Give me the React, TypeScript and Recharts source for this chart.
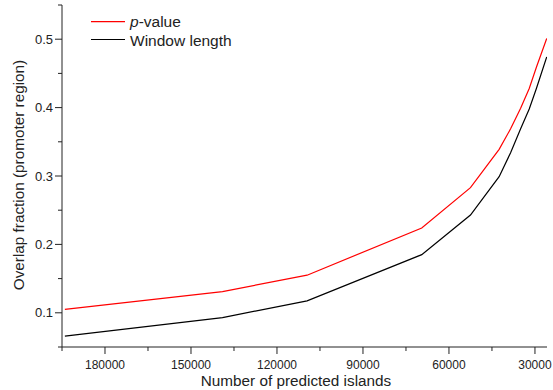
import React from 'react';
import { LineChart, Line, XAxis, YAxis, Label } from 'recharts';

const islands = [194000, 139000, 109500, 69500, 52500, 42500, 38500, 35000, 32000, 29500, 25900];
const pValue = [0.105, 0.131, 0.155, 0.224, 0.283, 0.339, 0.369, 0.399, 0.428, 0.459, 0.501];
const windowLength = [0.066, 0.093, 0.1175, 0.185, 0.243, 0.299, 0.334, 0.369, 0.398, 0.428, 0.474];

const xTicks = [195000, 180000, 165000, 150000, 135000, 120000, 105000, 90000, 75000, 60000, 45000, 30000];
const xMajor = [180000, 150000, 120000, 90000, 60000, 30000];
const yTicks = [0.05, 0.1, 0.15, 0.2, 0.25, 0.3, 0.35, 0.4, 0.45, 0.5, 0.55];
const yMajor = [0.1, 0.2, 0.3, 0.4, 0.5];

const seriesNames = ['p-value', 'Window length'];

const data = islands.map((x, i) => ({ x, p: pValue[i], w: windowLength[i] }));

const FONT = '"Liberation Sans", Arial, Helvetica, sans-serif';
const INK = '#222';

const XTick = (props: any) => {
  const { x, y, payload } = props;
  const major = xMajor.includes(payload.value);
  return (
    <g>
      <line x1={x} x2={x} y1={y} y2={y + (major ? 7 : 4)} stroke={INK} strokeWidth={1} />
      {major && (
        <text x={x} y={y + 22} textAnchor="middle" fontSize={12} fill={INK} fontFamily={FONT}>
          {payload.value}
        </text>
      )}
    </g>
  );
};

const YTick = (props: any) => {
  const { x, y, payload } = props;
  const major = yMajor.some((v) => Math.abs(v - payload.value) < 1e-9);
  return (
    <g>
      <line x1={x - (major ? 7 : 4)} x2={x} y1={y} y2={y} stroke={INK} strokeWidth={1} />
      {major && (
        <text x={x - 9} y={y} dy="0.36em" textAnchor="end" fontSize={13} fill={INK} fontFamily={FONT}>
          {payload.value.toFixed(1)}
        </text>
      )}
    </g>
  );
};

const XTitle = () => (
  <text x={296} y={386} textAnchor="middle" fontSize={15.3} fill={INK} fontFamily={FONT}>
    Number of predicted islands
  </text>
);

const YTitle = () => (
  <g>
    <text
      transform="translate(24,175) rotate(-90)"
      textAnchor="middle"
      fontSize={15.3}
      fill={INK}
      fontFamily={FONT}
    >
      Overlap fraction (promoter region)
    </text>
    <line x1={91} x2={125} y1={21.7} y2={21.7} stroke="#ff0000" strokeWidth={1.2} />
    <text x={130} y={27} fontSize={15.5} fill={INK} fontFamily={FONT}>
      <tspan fontStyle="italic">p</tspan>
      <tspan>{seriesNames[0].slice(1)}</tspan>
    </text>
    <line x1={91} x2={125} y1={39.5} y2={39.5} stroke="#000" strokeWidth={1.2} />
    <text x={130} y={45.5} fontSize={15.5} fill={INK} fontFamily={FONT}>
      {seriesNames[1]}
    </text>
  </g>
);

export default function App() {
  return (
    <div style={{ position: 'absolute', left: 0, top: 0, width: 553, height: 390, background: '#fff' }}>
      <LineChart width={553} height={390} data={data} margin={{ top: 5, right: 6, bottom: 0, left: 0 }}>
        <XAxis
          dataKey="x"
          type="number"
          domain={[25800, 195000]}
          reversed
          ticks={xTicks}
          interval={0}
          height={43}
          tickSize={0}
          tickMargin={0}
          tickLine={false}
          tick={<XTick />}
          axisLine={{ stroke: INK, strokeWidth: 1 }}
          allowDataOverflow
        >
          <Label content={<XTitle />} />
        </XAxis>
        <YAxis
          type="number"
          domain={[0.05, 0.55]}
          ticks={yTicks}
          interval={0}
          width={62}
          tickSize={0}
          tickMargin={0}
          tickLine={false}
          tick={<YTick />}
          axisLine={{ stroke: INK, strokeWidth: 1 }}
          allowDataOverflow
        >
          <Label content={<YTitle />} />
        </YAxis>
        <Line
          dataKey="p"
          name={seriesNames[0]}
          type="linear"
          stroke="#ff0000"
          strokeWidth={1.2}
          dot={false}
          isAnimationActive={false}
        />
        <Line
          dataKey="w"
          name={seriesNames[1]}
          type="linear"
          stroke="#000000"
          strokeWidth={1.2}
          dot={false}
          isAnimationActive={false}
        />
      </LineChart>
    </div>
  );
}
